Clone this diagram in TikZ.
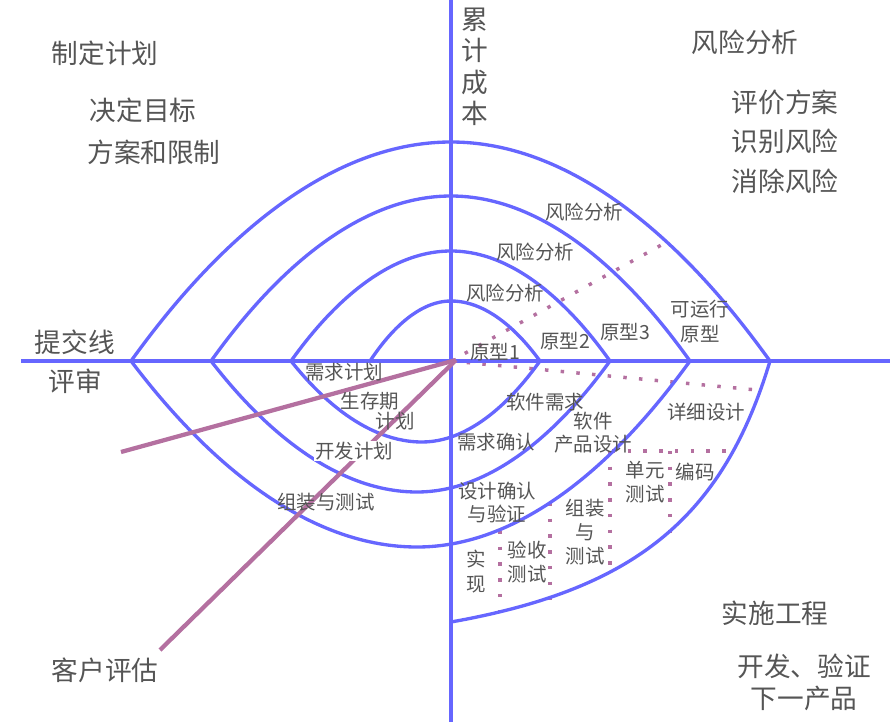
\documentclass[tikz,border=0pt]{standalone}
\usepackage{fontspec}
\setmainfont{Noto Sans CJK SC}
\definecolor{bl}{RGB}{102,102,255}
\definecolor{pk}{RGB}{180,112,160}
\definecolor{tx}{RGB}{85,85,85}
\begin{document}
\begin{tikzpicture}[x=0.75pt,y=-0.75pt,
  curve/.style={draw=bl,line width=2.5pt},
  axisline/.style={draw=bl,line width=2.5pt},
  pline/.style={draw=pk,line width=3.2pt},
  dots/.style={draw=pk,line width=2.6pt,dash pattern=on 2.6pt off 9.2pt},
  big/.style={text=tx,font=\fontsize{20}{24}\selectfont,inner sep=0pt,align=center},
  small/.style={text=tx,font=\fontsize{14.6}{17.4}\selectfont,inner sep=0pt,align=center}]
\useasboundingbox (0,0) rectangle (894,725);
% named points
\coordinate (O) at (451,361);
\coordinate (P) at (456,360);
% dotted lines
\draw[dots] (O) -- (665,243);
\draw[dots] (O) -- (757,390);
\draw[dots] (612,451) -- (737,451);
\draw[dots] (610,451) -- (610,567);
\draw[dots] (670,451) -- (670,535);
\draw[dots] (550,503) -- (550,600);
\draw[dots] (500,531) -- (500,614);
% axes
\draw[axisline] (21,361) -- (890,361);
\draw[axisline] (451,0) -- (451,722);
% upper arcs
\draw[curve] (370,361) parabola bend (451,301) (540,361);
\draw[curve] (291,361) parabola bend (451,251) (610,361);
\draw[curve] (211,361) parabola bend (451,196) (690,361);
\draw[curve] (131,361) parabola bend (451,142) (770,361);
% lower arcs
\draw[curve] (540,361) parabola bend (422,442) (291,361);
\draw[curve] (610,361) parabola bend (417,492) (211,361);
\draw[curve] (690,361) parabola bend (417,547) (131,361);
\draw[curve] (770,361) .. controls (722,521) and (631,590) .. (451,622);
% pink lines
\coordinate (E1) at (121,452);
\coordinate (E2) at (160,650);
\draw[pline] (P) -- (E1);
\draw[pline] (P) -- (E2);
% big labels
\node[big] (zdjh) at (105,53) {制定计划};
\node[big] (jdmb) at (143,110) {决定目标};
\node[big] (fahxz) at (154,152) {方案和限制};
\node[big,font=\fontsize{20}{23.6}\selectfont] (ljcb) at (475,67) {累\\计\\成\\本};
\node[big] (fxfx) at (745,42) {风险分析};
\node[big] (pjfa) at (785,102) {评价方案};
\node[big] (sbfx) at (785,141) {识别风险};
\node[big] (xcfx) at (785,181) {消除风险};
\node[big] (tjx) at (75,342) {提交线};
\node[big] (ps) at (75,381) {评审};
\node[big] (ssgc) at (775,613) {实施工程};
\node[big,font=\fontsize{20}{24}\selectfont] (kfyz) at (804,682) {开发、验证\\下一产品};
\node[big] (khpg) at (105,670) {客户评估};
% small labels
\node[small] (fx1) at (584,212) {风险分析};
\node[small] (fx2) at (535,252) {风险分析};
\node[small] (fx3) at (505,293) {风险分析};
\node[small] (yx1) at (495,352) {原型1};
\node[small] (yx2) at (565,341) {原型2};
\node[small] (yx3) at (625,332) {原型3};
\node[small,font=\fontsize{14.6}{18.75}\selectfont] (kyx) at (700,322) {可运行\\原型};
\node[small] (xqjh) at (344,372) {需求计划};
\node[small] (scq) at (370,401) {生存期};
\node[small] (jh) at (395,421) {计划};
\node[small,fill=white,inner sep=1pt] (kfjh) at (354,451) {开发计划};
\node[small] (zzcs) at (326,502) {组装与测试};
\node[small] (rjxq) at (545,402) {软件需求};
\node[small] (rj) at (593,421) {软件};
\node[small] (cpsj) at (593,444) {产品设计};
\node[small] (xqqr) at (496,442) {需求确认};
\node[small] (xxsj) at (706,412) {详细设计};
\node[small,font=\fontsize{14.6}{18}\selectfont] (dycs) at (645,482) {单元\\测试};
\node[small] (bm) at (695,472) {编码};
\node[small,font=\fontsize{14.6}{17.25}\selectfont] (sjqr) at (497,502) {设计确认\\与验证};
\node[small,font=\fontsize{14.6}{18}\selectfont] (zzycs) at (585,532) {组装\\与\\测试};
\node[small,font=\fontsize{14.6}{18}\selectfont] (ysce) at (527,562) {验收\\测试};
\node[small,font=\fontsize{14.6}{18.75}\selectfont] (sx) at (476,572) {实\\现};
\end{tikzpicture}
\end{document}
